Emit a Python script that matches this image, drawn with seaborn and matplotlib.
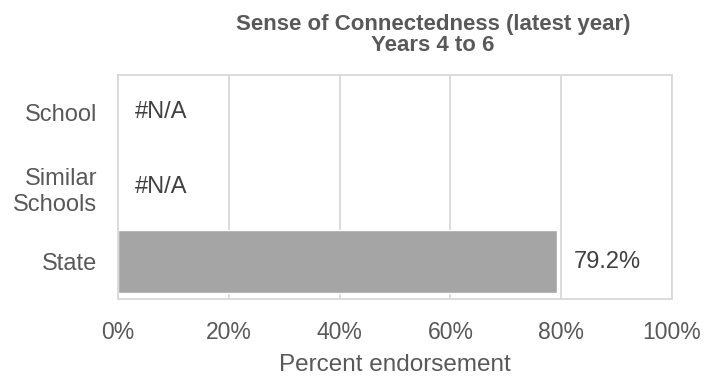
import numpy as np
import pandas as pd
import matplotlib
matplotlib.use("Agg")
import matplotlib.pyplot as plt
import seaborn as sns

categories = ["School", "Similar\nSchools", "State"]
values = [np.nan, np.nan, 79.2]
value_labels = ["#N/A", "#N/A", "79.2%"]
x_ticks = [0, 20, 40, 60, 80, 100]
x_tick_labels = ["0%", "20%", "40%", "60%", "80%", "100%"]

df = pd.DataFrame({"Group": categories, "Percent": values})

sns.set_theme(style="white")
plt.rcParams["font.family"] = ["Liberation Sans", "DejaVu Sans"]

text_col = "#595959"
grid_col = "#d9d9d9"

fig = plt.figure(figsize=(7.2, 3.76), dpi=100)
ax = fig.add_axes([118 / 720, 1 - 299 / 376, (672 - 118) / 720, (299 - 75) / 376])

sns.barplot(data=df, y="Group", x="Percent", color="#a5a5a5", width=0.84,
            saturation=1, ax=ax, zorder=2)

ax.set_xlim(0, 100)
ax.set_xticks(x_ticks)
ax.set_xticklabels(x_tick_labels)
ax.grid(axis="x", color=grid_col, linewidth=1.3, zorder=0)
ax.set_axisbelow(True)
for s in ax.spines.values():
    s.set_color(grid_col)
    s.set_linewidth(1.3)
ax.tick_params(axis="x", length=0, labelsize=16.5, colors=text_col, pad=16)
ax.tick_params(axis="y", length=0, labelsize=17, colors=text_col, pad=15)
for t in ax.get_yticklabels():
    t.set_linespacing(1.25)
ax.set_ylabel("")
ax.set_xlabel("Percent endorsement", fontsize=17.5, color=text_col, labelpad=7)

for i, (v, lab) in enumerate(zip(values, value_labels)):
    xpos = 3 if np.isnan(v) else v + 3
    ax.text(xpos, i, lab, va="center", ha="left", fontsize=17, color="#404040")

fig.text(433 / 720, 1 - 35 / 376, "Sense of Connectedness (latest year)\nYears 4 to 6",
         ha="center", va="center", fontsize=16, fontweight="bold", color=text_col,
         linespacing=1.05)

fig.savefig("out.png", dpi=100)
